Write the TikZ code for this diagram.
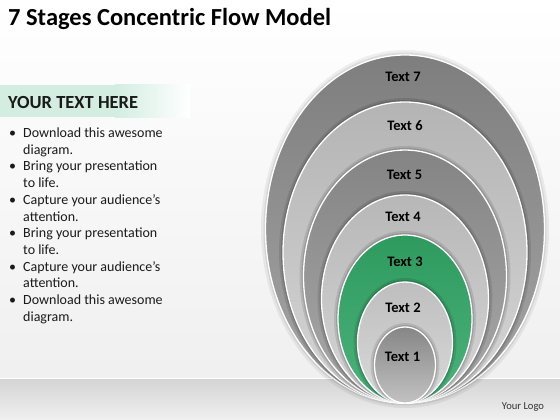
\documentclass[tikz,border=0pt]{standalone}
\usepackage{fontspec}
\setmainfont{Carlito}
\usetikzlibrary{shapes.geometric}
\definecolor{gSevT}{HTML}{7E7E7E}\definecolor{gSevB}{HTML}{A6A6A6}
\definecolor{gSixT}{HTML}{B4B4B4}\definecolor{gSixB}{HTML}{D6D6D6}
\definecolor{gFivT}{HTML}{848484}\definecolor{gFivB}{HTML}{A9A9A9}
\definecolor{gFouT}{HTML}{B7B7B7}\definecolor{gFouB}{HTML}{D6D6D6}
\definecolor{gThrT}{HTML}{2F9A5E}\definecolor{gThrB}{HTML}{4AB37B}
\definecolor{gTwoT}{HTML}{BEBEBE}\definecolor{gTwoB}{HTML}{DADADA}
\definecolor{gOneT}{HTML}{868686}\definecolor{gOneB}{HTML}{C2C2C2}
\definecolor{hdrGreen}{HTML}{D3EDE1}
\definecolor{txtDark}{HTML}{1A1A1A}
% #1 name, #2 a, #3 b, #4 top colour, #5 bottom colour, #6 outer a, #7 outer b
\newcommand\myring[7]{%
  \begin{scope}
    \clip (405,{403-#7}) ellipse [x radius=#6pt, y radius=#7pt];
    \fill[black,opacity=.10] (405,{403-#3}) ellipse [x radius={(#2+4)*1pt}, y radius={(#3+4)*1pt}];
    \fill[black,opacity=.13] (405,{403-#3}) ellipse [x radius={(#2+2)*1pt}, y radius={(#3+2)*1pt}];
  \end{scope}
  \node[ring, minimum width={2*#2pt}, minimum height={2*#3pt}, top color=#4, bottom color=#5] (#1) at (405,{403-#3}) {};
}
\begin{document}
\begin{tikzpicture}[x=1pt,y=-1pt,
  ring/.style={ellipse, draw=white, line width=1.3pt, inner sep=0pt},
  lbl/.style={font=\bfseries\fontsize{14.5}{16}\selectfont, text=black, inner sep=0pt},
  bul/.style={anchor=base west, font=\fontsize{14}{16}\selectfont, text=txtDark, inner sep=0pt},
]
\useasboundingbox (0,0) rectangle (560,420);
% background
\shade[top color=white, bottom color=black!6] (0,0) rectangle (560,378);
\shade[top color=black!17, bottom color=black!6] (0,378) rectangle (560,420);
\draw[white, line width=0.8pt] (0,378.4) -- (560,378.4);
% header bar
\fill[hdrGreen] (0,85) rectangle (115,117);
\shade[left color=hdrGreen, right color=white] (115,85) rectangle (190,117);
% title
\node[anchor=base west, inner sep=0pt, font=\bfseries\fontsize{24.5}{28}\selectfont, text=black] (title) at (8,26) {7 Stages Concentric Flow Model};
\node[anchor=base west, inner sep=0pt, font=\bfseries\fontsize{18.5}{22}\selectfont, text=txtDark] (hdr) at (8,108.5) {YOUR TEXT HERE};
% bullets
\foreach \k/\t in {0/Download this awesome, 2/Bring your presentation, 4/Capture your audience’s, 6/Bring your presentation, 8/Capture your audience’s, 10/Download this awesome}{
  \node[bul] (bd\k) at (9,{137.5+16.7*\k}) {•};
  \node[bul] (bt\k) at (23,{137.5+16.7*\k}) {\t};
}
\foreach \k/\t in {1/diagram., 3/to life., 5/attention., 7/to life., 9/attention., 11/diagram.}{
  \node[bul] (bt\k) at (23,{137.5+16.7*\k}) {\t};
}
% outer halo
\fill[black,opacity=.06] (405,229) ellipse [x radius=144pt, y radius=179pt];
\fill[black,opacity=.08] (405,229) ellipse [x radius=141.5pt, y radius=176.5pt];
\node[ring, minimum width=279pt, minimum height=348pt, top color=gSevT, bottom color=gSevB] (r7) at (405,229) {};
\myring{r6}{122}{150.5}{gSixT}{gSixB}{139.5}{174}
\myring{r5}{101.5}{126.5}{gFivT}{gFivB}{122}{150.5}
\myring{r4}{83.5}{104}{gFouT}{gFouB}{101.5}{126.5}
\myring{r3}{67}{84}{gThrT}{gThrB}{83.5}{104}
\myring{r2}{47.5}{60.5}{gTwoT}{gTwoB}{67}{84}
\myring{r1}{30.5}{38}{gOneT}{gOneB}{47.5}{60.5}
% labels
\node[lbl] (t7) at (403,76.5) {Text 7};
\node[lbl] (t6) at (405,126) {Text 6};
\node[lbl] (t5) at (404.5,175) {Text 5};
\node[lbl] (t4) at (403,217) {Text 4};
\node[lbl] (t3) at (405,262) {Text 3};
\node[lbl] (t2) at (403,308) {Text 2};
\node[lbl] (t1) at (402.5,356.5) {Text 1};
% logo
\node[inner sep=0pt, font=\fontsize{10.6}{12}\selectfont, text=black!80] (logo) at (523,407) {Your Logo};
\end{tikzpicture}
\end{document}
